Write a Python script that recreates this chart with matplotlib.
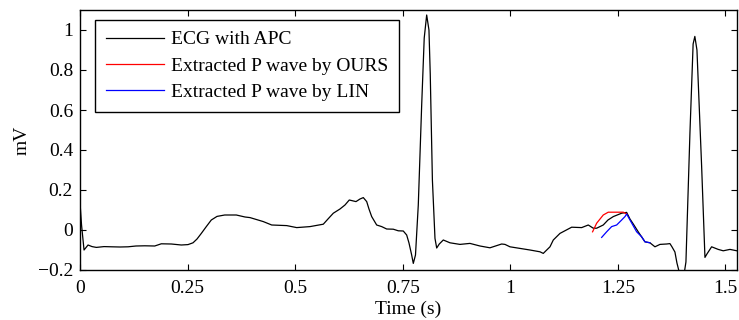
import numpy as np
import matplotlib
matplotlib.use('Agg')
import matplotlib.pyplot as plt

plt.rcParams['font.family'] = ['Liberation Serif', 'DejaVu Serif']
plt.rcParams['font.size'] = 14

# ECG with APC (time in s, amplitude in mV)
ecg_t = [0.000, 0.0035, 0.0093, 0.0186, 0.0279, 0.0379, 0.0558, 0.0727, 0.0930, 0.1116,
         0.1301, 0.1504, 0.1736, 0.1889, 0.2122, 0.2354, 0.2510, 0.2626, 0.2719, 0.2819,
         0.2928, 0.3051, 0.3184, 0.3363, 0.3632, 0.3835, 0.3951, 0.4137, 0.4260, 0.4455,
         0.4804, 0.5036, 0.5345, 0.5654, 0.5763, 0.5887, 0.6042, 0.6158, 0.6258, 0.6414,
         0.6507, 0.6584, 0.6663, 0.6716, 0.6779, 0.6895, 0.7011, 0.7127, 0.7281, 0.7397,
         0.7513, 0.7592, 0.7646, 0.7708, 0.7746, 0.7797, 0.7862, 0.7941, 0.8000, 0.8057,
         0.8110, 0.8140, 0.8190, 0.8250, 0.8290, 0.8350, 0.8443, 0.8599, 0.8831, 0.9063,
         0.9296, 0.9528, 0.9800, 0.9877, 0.9993, 1.0225, 1.0458, 1.0690, 1.0767, 1.0923,
         1.1000, 1.1155, 1.1427, 1.1659, 1.1813, 1.1929, 1.2008, 1.2161, 1.2271, 1.2394,
         1.2589, 1.2705, 1.2782, 1.2859, 1.2974, 1.3130, 1.3247, 1.3363, 1.3479, 1.3635,
         1.3711, 1.3758, 1.3827, 1.3874, 1.3944, 1.3990, 1.4037, 1.4083, 1.4176, 1.4250,
         1.4290, 1.4339, 1.4448, 1.4525, 1.4571, 1.4680, 1.4833, 1.4950, 1.5106, 1.5268]
ecg_v = [0.135, 0.025, -0.100, -0.075, -0.083, -0.087, -0.083, -0.084, -0.085, -0.084,
         -0.080, -0.079, -0.080, -0.069, -0.070, -0.075, -0.073, -0.064, -0.045, -0.017,
         0.015, 0.050, 0.068, 0.075, 0.075, 0.065, 0.062, 0.050, 0.042, 0.025,
         0.022, 0.012, 0.017, 0.029, 0.055, 0.084, 0.105, 0.125, 0.150, 0.142,
         0.155, 0.162, 0.142, 0.105, 0.067, 0.025, 0.017, 0.005, 0.004, -0.004,
         -0.005, -0.025, -0.065, -0.125, -0.167, -0.125, 0.125, 0.625, 0.960, 1.075,
         1.000, 0.780, 0.250, -0.042, -0.090, -0.070, -0.050, -0.064, -0.072, -0.067,
         -0.080, -0.089, -0.070, -0.072, -0.084, -0.092, -0.100, -0.109, -0.117, -0.084,
         -0.050, -0.017, 0.014, 0.012, 0.025, 0.009, 0.009, 0.025, 0.050, 0.067,
         0.084, 0.088, 0.055, 0.030, -0.009, -0.059, -0.064, -0.084, -0.072, -0.070,
         -0.068, -0.084, -0.110, -0.165, -0.225, -0.255, -0.225, -0.160, 0.485, 0.930,
         0.968, 0.900, 0.317, -0.137, -0.120, -0.084, -0.097, -0.104, -0.097, -0.104]

# Extracted P waves
ours_t = [1.1913, 1.2008, 1.2161, 1.2277, 1.2473, 1.2626, 1.2705]
ours_v = [-0.009, 0.034, 0.075, 0.089, 0.089, 0.089, 0.080]

lin_t = [1.2124, 1.2240, 1.2356, 1.2473, 1.2589, 1.2666, 1.2705, 1.2782, 1.2937,
         1.3054, 1.3130, 1.3247]
lin_v = [-0.037, -0.009, 0.017, 0.025, 0.050, 0.067, 0.080, 0.050, -0.009,
         -0.034, -0.059, -0.064]

xticks = [0, 0.25, 0.5, 0.75, 1, 1.25, 1.5]
xtick_labels = ['0', '0.25', '0.5', '0.75', '1', '1.25', '1.5']
yticks = [-0.2, 0, 0.2, 0.4, 0.6, 0.8, 1]
ytick_labels = ['\u22120.2', '0', '0.2', '0.4', '0.6', '0.8', '1']

fig = plt.figure(figsize=(7.39, 3.2), dpi=100)
ax = fig.add_axes([0.1083, 0.15625, 0.889, 0.8125])

ax.plot(ecg_t, ecg_v, color='black', linewidth=0.9, label='ECG with APC')
ax.plot(ours_t, ours_v, color='red', linewidth=0.9, label='Extracted P wave by OURS')
ax.plot(lin_t, lin_v, color='blue', linewidth=0.9, label='Extracted P wave by LIN')

ax.set_xlim(0, 1.527)
ax.set_ylim(-0.2, 1.1)
ax.set_xticks(xticks)
ax.set_xticklabels(xtick_labels)
ax.set_yticks(yticks)
ax.set_yticklabels(ytick_labels)
ax.tick_params(direction='in', top=True, right=True, length=4, width=0.8)
ax.tick_params(axis='x', pad=7)
ax.tick_params(axis='y', pad=5)
for s in ax.spines.values():
    s.set_linewidth(1.0)

ax.set_xlabel('Time (s)', labelpad=3)
ax.set_ylabel('mV', labelpad=5)

leg = ax.legend(loc='upper left', bbox_to_anchor=(0.0228, 0.9615), borderaxespad=0,
                fancybox=False, edgecolor='black', framealpha=1, handlelength=3.0,
                labelspacing=0.45, borderpad=0.55, handletextpad=0.35)
leg.get_frame().set_linewidth(1.0)

fig.savefig('out.png', dpi=100)
